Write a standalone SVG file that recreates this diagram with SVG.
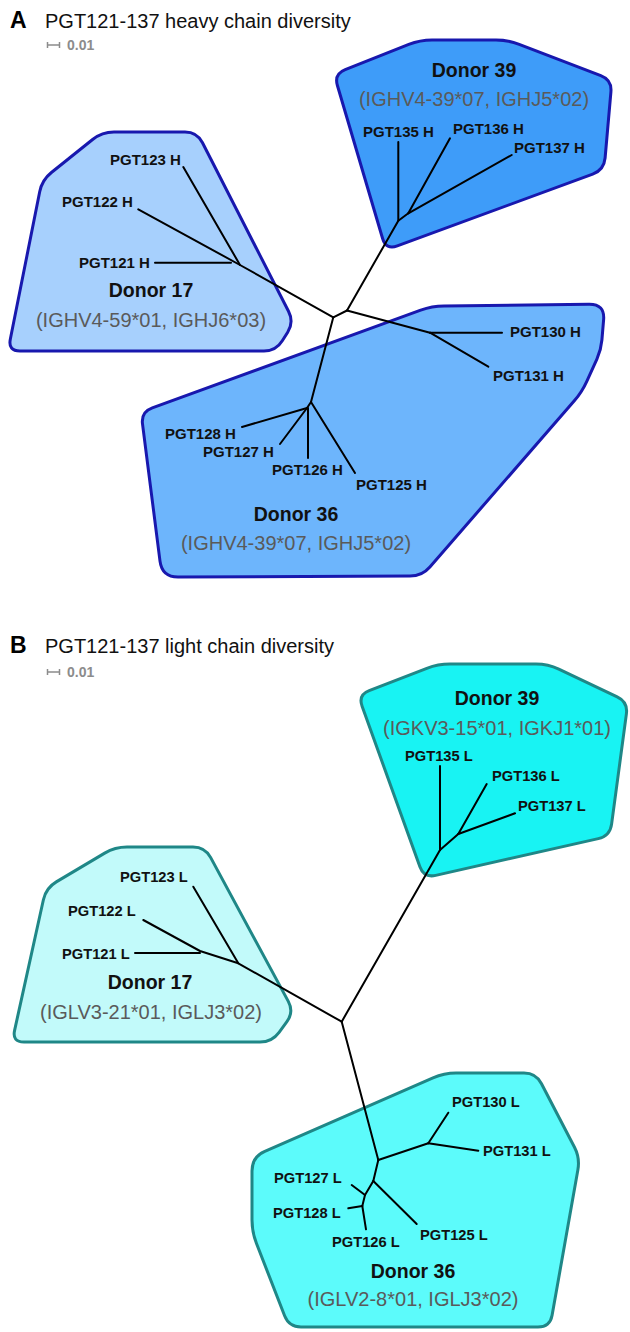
<svg xmlns="http://www.w3.org/2000/svg" width="630" height="1332" viewBox="0 0 630 1332">
<style>
.panel{font-family:"Liberation Sans",Arial,sans-serif;font-weight:bold;font-size:23px;fill:#000}
.title{font-family:"Liberation Sans",Arial,sans-serif;font-size:20px;fill:#111}
.scale{font-family:"Liberation Sans",Arial,sans-serif;font-weight:bold;font-size:14px;fill:#8c8c8c}
.sbar{stroke:#8c8c8c;stroke-width:1.5;fill:none}
.donor{font-family:"Liberation Sans",Arial,sans-serif;font-weight:bold;font-size:19.5px;fill:#111;text-anchor:middle}
.genes{font-family:"Liberation Sans",Arial,sans-serif;font-size:20px;fill:#5a5a5a;text-anchor:middle}
.leaf{font-family:"Liberation Sans",Arial,sans-serif;font-weight:bold;font-size:15px;fill:#111}
.leafL{font-family:"Liberation Sans",Arial,sans-serif;font-weight:bold;font-size:14.7px;fill:#111}
.hullA{stroke:#1818ae;stroke-width:3;stroke-linejoin:round}
.hullB{stroke:#1f8787;stroke-width:3;stroke-linejoin:round}
.tree{stroke:#000;stroke-width:2;fill:none;stroke-linecap:round;stroke-linejoin:round}
</style>

<!-- Panel A header -->
<text class="panel" x="10" y="28">A</text>
<text class="title" x="45" y="28">PGT121-137 heavy chain diversity</text>
<path class="sbar" d="M47,45 H60 M47.5,42 V48 M59.5,42 V48"/>
<text class="scale" x="67" y="50">0.01</text>

<!-- Panel A hulls -->
<g id="A-donor39">
<path class="hullA" fill="#3e9cf9" d="M 345.2,69.6 L 408.8,44.4 Q 420,40 432,40 L 496,40 Q 508,40 519.2,44.3 L 600.8,75.7 Q 612,80 610.9,92 L 605.1,158 Q 604,170 592.7,174.1 L 397.3,245.9 Q 386,250 382.6,238.5 L 337.4,85.5 Q 334,74 345.2,69.6 Z"/>
<text class="donor" x="474" y="77">Donor 39</text>
<text class="genes" x="474" y="106">(IGHV4-39*07, IGHJ5*02)</text>
<text class="leaf" x="363" y="137">PGT135 H</text>
<text class="leaf" x="453" y="134">PGT136 H</text>
<text class="leaf" x="514" y="153">PGT137 H</text>
</g>
<g id="A-donor17">
<path class="hullA" fill="#a7d0fd" d="M 51.4,172.5 L 92.6,139.5 Q 102,132 114,132 L 185,132 Q 197,132 202.5,142.7 L 288.5,311.3 Q 294,322 287.7,332.2 L 282.3,340.8 Q 276,351 264,351 L 20,351 Q 8,351 10.3,339.2 L 39.7,191.8 Q 42,180 51.4,172.5 Z"/>
<text class="donor" x="151" y="297">Donor 17</text>
<text class="genes" x="151" y="327">(IGHV4-59*01, IGHJ6*03)</text>
<text class="leaf" x="110" y="165">PGT123 H</text>
<text class="leaf" x="62" y="207">PGT122 H</text>
<text class="leaf" x="79" y="268">PGT121 H</text>
</g>
<g id="A-donor36">
<path class="hullA" fill="#6db5fc" d="M 152.3,407.9 L 420.7,310.1 Q 432,306 444,305.9 L 589,304.2 Q 605,304 603.6,319.9 L 601.9,340 Q 601,350 596.9,359.1 L 586.9,381.1 Q 582,392 574.1,401.1 L 429.9,566.9 Q 422,576 410,576 L 178,577 Q 162,577 160,561.1 L 142.5,423.9 Q 141,412 152.3,407.9 Z"/>
<text class="donor" x="296" y="521">Donor 36</text>
<text class="genes" x="296" y="550">(IGHV4-39*07, IGHJ5*02)</text>
<text class="leaf" x="510" y="337">PGT130 H</text>
<text class="leaf" x="493" y="381">PGT131 H</text>
<text class="leaf" x="165" y="439">PGT128 H</text>
<text class="leaf" x="203" y="457">PGT127 H</text>
<text class="leaf" x="272" y="475">PGT126 H</text>
<text class="leaf" x="356" y="490">PGT125 H</text>
</g>

<!-- Panel B header -->
<text class="panel" x="10" y="653">B</text>
<text class="title" x="45" y="653">PGT121-137 light chain diversity</text>
<path class="sbar" d="M47,672 H60 M47.5,669 V675 M59.5,669 V675"/>
<text class="scale" x="67" y="677">0.01</text>

<g id="B-donor39">
<path class="hullB" fill="#18f3f3" d="M 369.2,690.7 L 426.8,668.3 Q 438,664 450,664 L 536,664 Q 548,664 558.8,669.1 L 617.2,696.9 Q 628,702 626.4,713.9 L 611.6,824.1 Q 610,836 598.3,838.6 L 435.7,875.4 Q 424,878 419.9,866.7 L 362.1,706.3 Q 358,695 369.2,690.7 Z"/>
<text class="donor" x="497" y="705">Donor 39</text>
<text class="genes" x="497" y="735">(IGKV3-15*01, IGKJ1*01)</text>
<text class="leafL" x="405" y="761">PGT135 L</text>
<text class="leafL" x="492" y="781">PGT136 L</text>
<text class="leafL" x="518" y="811">PGT137 L</text>
</g>
<g id="B-donor17">
<path class="hullB" fill="#c2fafa" d="M 56.3,881.9 L 104.7,853.1 Q 115,847 127,847 L 193,847 Q 205,847 210.7,857.6 L 288.3,1001.4 Q 294,1012 286.9,1021.7 L 279.1,1032.3 Q 272,1042 260,1042 L 24,1042 Q 12,1042 14.6,1030.3 L 43.4,899.7 Q 46,888 56.3,881.9 Z"/>
<text class="donor" x="150" y="989">Donor 17</text>
<text class="genes" x="151" y="1019">(IGLV3-21*01, IGLJ3*02)</text>
<text class="leafL" x="120" y="882">PGT123 L</text>
<text class="leafL" x="68" y="916">PGT122 L</text>
<text class="leafL" x="62" y="959">PGT121 L</text>
</g>
<g id="B-donor36">
<path class="hullB" fill="#5cfbfb" d="M 264.8,1151.4 L 433,1077.8 Q 444,1073 456,1073 L 524,1073 Q 536,1073 541.5,1083.7 L 574.5,1147.3 Q 580,1158 577.9,1169.8 L 552.1,1315.2 Q 550,1327 538,1327 L 301,1327 Q 289,1327 284.6,1315.8 L 256.4,1243.2 Q 252,1232 252,1220 L 252,1171 Q 252,1157 264.8,1151.4 Z"/>
<text class="donor" x="413" y="1278">Donor 36</text>
<text class="genes" x="413" y="1306">(IGLV2-8*01, IGLJ3*02)</text>
<text class="leafL" x="452" y="1107">PGT130 L</text>
<text class="leafL" x="483" y="1156">PGT131 L</text>
<text class="leafL" x="274" y="1183">PGT127 L</text>
<text class="leafL" x="273" y="1218">PGT128 L</text>
<text class="leafL" x="332" y="1247">PGT126 L</text>
<text class="leafL" x="420" y="1240">PGT125 L</text>
</g>

<!-- Tree connectors -->
<g id="connectors" class="tree">
<!-- Panel A -->
<path d="M347,310.5 L333.3,317.3"/>
<path d="M347,310.5 L398.3,220.7 L408.3,213.3"/>
<path d="M398.3,142 V220.7"/>
<path d="M450,138.3 L408.3,213.3"/>
<path d="M511.7,155 L408.3,213.3"/>
<path d="M347,310.5 L430,332.7"/>
<path d="M430,332.7 L502,332.7"/>
<path d="M430,332.7 L488.3,366.7"/>
<path d="M333.3,317.3 L240,265 L138.3,209.3"/>
<path d="M183.3,167 L240,265"/>
<path d="M155,262.7 L231,262.7"/>
<path d="M333.3,317.3 L311,402 L307,408"/>
<path d="M307,408 L242,427"/>
<path d="M307,408 L280,444"/>
<path d="M308,408 L308,458"/>
<path d="M311,402 L355,473"/>
<!-- Panel B -->
<path d="M341.7,1021.7 L440,850"/>
<path d="M440,766 V850"/>
<path d="M440,850 L458.3,834"/>
<path d="M486.7,784 L458.3,834"/>
<path d="M515,813.3 L458.3,834"/>
<path d="M341.7,1021.7 L238.3,963.3 L200,951 L143.3,920"/>
<path d="M135,953 L200,953"/>
<path d="M193.3,886.7 L238.3,963.3"/>
<path d="M341.7,1021.7 L378.3,1160"/>
<path d="M378.3,1160 L428.3,1143.3"/>
<path d="M428.3,1143.3 L448.3,1112.7"/>
<path d="M428.3,1143.3 L478.3,1150.7"/>
<path d="M378.3,1160 L373.3,1181"/>
<path d="M373.3,1181 L416.7,1224"/>
<path d="M373.3,1181 L365,1195"/>
<path d="M365,1195 L351.7,1185"/>
<path d="M365,1195 L362.3,1206"/>
<path d="M362.3,1206 L348.3,1208.3"/>
<path d="M362.3,1206 L366,1229.3"/>
</g>
</svg>
